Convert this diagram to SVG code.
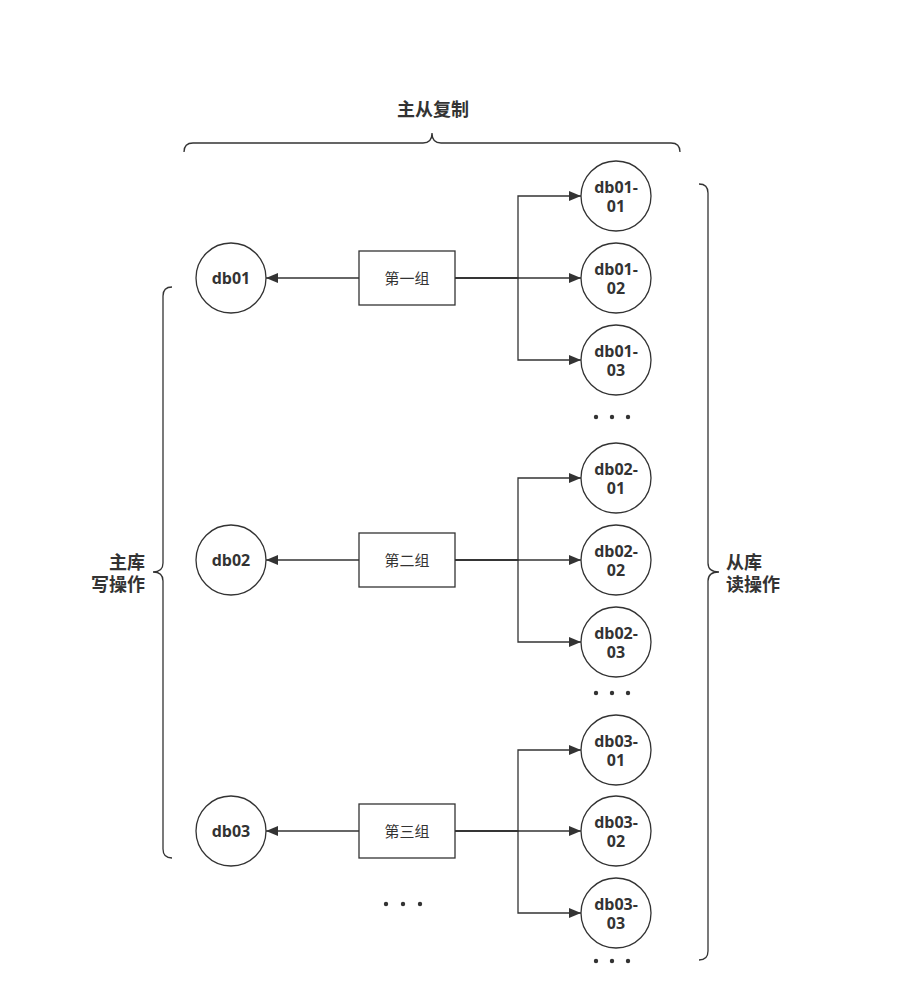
<svg xmlns="http://www.w3.org/2000/svg" width="921" height="995" viewBox="0 0 921 995">
<defs>
<style>
.c{fill:#fff;stroke:#333;stroke-width:1.3}
.b{fill:#fff;stroke:#333;stroke-width:1.3}
.t{font-family:"Open Sans","Noto Sans CJK SC",sans-serif;font-weight:bold;font-size:16px;fill:#333;text-anchor:middle;dominant-baseline:central}
.g{font-family:"Open Sans","Noto Sans CJK SC",sans-serif;font-size:15px;fill:#333;text-anchor:middle;dominant-baseline:central}
.l{font-family:"Noto Sans CJK SC",sans-serif;font-weight:bold;font-size:18px;fill:#333;dominant-baseline:central}
.e{fill:none;stroke:#333;stroke-width:1.3}
.br{fill:none;stroke:#333;stroke-width:1.3}
.d{fill:#333}
</style>
<marker id="a" viewBox="0 0 12 10" refX="12" refY="5" markerWidth="12" markerHeight="10" markerUnits="userSpaceOnUse" orient="auto">
<path d="M0,0 L12,5 L0,10 z" fill="#333"/>
</marker>
</defs>
<rect width="921" height="995" fill="#fff"/>

<g id="brace-top">
<path class="br" d="M184,152 Q184,143 193,143 L423,143 Q432,143 432,133 Q432,143 441,143 L671,143 Q680,143 680,152"/>
<text class="l" x="433" y="108" text-anchor="middle">主从复制</text>
</g>
<g id="brace-left">
<path class="br" d="M172,287 Q163,287 163,296 L163,563 Q163,572 153,572 Q163,572 163,581 L163,849 Q163,858 172,858"/>
<text class="l" x="145" y="561" text-anchor="end">主库</text>
<text class="l" x="145" y="583" text-anchor="end">写操作</text>
</g>
<g id="brace-right">
<path class="br" d="M699,184 Q708,184 708,193 L708,563 Q708,572 719,572 Q708,572 708,581 L708,951 Q708,960 699,960"/>
<text class="l" x="726" y="561">从库</text>
<text class="l" x="726" y="583">读操作</text>
</g>

<g id="connectors">
<path class="e" d="M359,278 L266,278" marker-end="url(#a)"/>
<path class="e" d="M455,278 L581,278" marker-end="url(#a)"/>
<path class="e" d="M455,278 L518,278 L518,196 L581,196" marker-end="url(#a)"/>
<path class="e" d="M455,278 L518,278 L518,360 L581,360" marker-end="url(#a)"/>

<path class="e" d="M359,560 L266,560" marker-end="url(#a)"/>
<path class="e" d="M455,560 L581,560" marker-end="url(#a)"/>
<path class="e" d="M455,560 L518,560 L518,478 L581,478" marker-end="url(#a)"/>
<path class="e" d="M455,560 L518,560 L518,642 L581,642" marker-end="url(#a)"/>

<path class="e" d="M359,831 L266,831" marker-end="url(#a)"/>
<path class="e" d="M455,831 L581,831" marker-end="url(#a)"/>
<path class="e" d="M455,831 L518,831 L518,750 L581,750" marker-end="url(#a)"/>
<path class="e" d="M455,831 L518,831 L518,913 L581,913" marker-end="url(#a)"/>
</g>

<g id="db01"><circle class="c" cx="231" cy="278" r="35"/><text class="t" x="231" y="278">db01</text></g>
<g id="db02"><circle class="c" cx="231" cy="560" r="35"/><text class="t" x="231" y="560">db02</text></g>
<g id="db03"><circle class="c" cx="231" cy="831" r="35"/><text class="t" x="231" y="831">db03</text></g>

<g id="group1"><rect class="b" x="359" y="251" width="96" height="54"/><text class="g" x="407" y="278">第一组</text></g>
<g id="group2"><rect class="b" x="359" y="533" width="96" height="54"/><text class="g" x="407" y="560">第二组</text></g>
<g id="group3"><rect class="b" x="359" y="804" width="96" height="54"/><text class="g" x="407" y="831">第三组</text></g>

<g id="db01-01"><circle class="c" cx="616" cy="196" r="35"/><text class="t" x="616" y="187">db01-</text><text class="t" x="616" y="206">01</text></g>
<g id="db01-02"><circle class="c" cx="616" cy="278" r="35"/><text class="t" x="616" y="269">db01-</text><text class="t" x="616" y="288">02</text></g>
<g id="db01-03"><circle class="c" cx="616" cy="360" r="35"/><text class="t" x="616" y="351">db01-</text><text class="t" x="616" y="370">03</text></g>

<g id="db02-01"><circle class="c" cx="616" cy="478" r="35"/><text class="t" x="616" y="469">db02-</text><text class="t" x="616" y="488">01</text></g>
<g id="db02-02"><circle class="c" cx="616" cy="560" r="35"/><text class="t" x="616" y="551">db02-</text><text class="t" x="616" y="570">02</text></g>
<g id="db02-03"><circle class="c" cx="616" cy="642" r="35"/><text class="t" x="616" y="633">db02-</text><text class="t" x="616" y="652">03</text></g>

<g id="db03-01"><circle class="c" cx="616" cy="750" r="35"/><text class="t" x="616" y="741">db03-</text><text class="t" x="616" y="760">01</text></g>
<g id="db03-02"><circle class="c" cx="616" cy="831" r="35"/><text class="t" x="616" y="822">db03-</text><text class="t" x="616" y="841">02</text></g>
<g id="db03-03"><circle class="c" cx="616" cy="913" r="35"/><text class="t" x="616" y="904">db03-</text><text class="t" x="616" y="923">03</text></g>

<g id="dots1"><circle class="d" cx="596" cy="417" r="2.2"/><circle class="d" cx="612" cy="417" r="2.2"/><circle class="d" cx="628" cy="417" r="2.2"/></g>
<g id="dots2"><circle class="d" cx="596" cy="693" r="2.2"/><circle class="d" cx="612" cy="693" r="2.2"/><circle class="d" cx="628" cy="693" r="2.2"/></g>
<g id="dots3"><circle class="d" cx="596" cy="961" r="2.2"/><circle class="d" cx="612" cy="961" r="2.2"/><circle class="d" cx="628" cy="961" r="2.2"/></g>
<g id="dots-left"><circle class="d" cx="386" cy="904" r="2.2"/><circle class="d" cx="403" cy="904" r="2.2"/><circle class="d" cx="420" cy="904" r="2.2"/></g>
</svg>
